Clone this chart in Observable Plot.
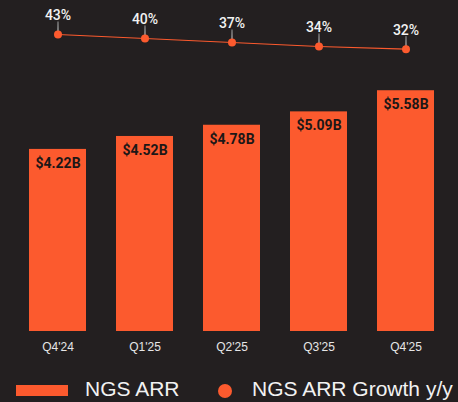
<!DOCTYPE html>
<html>
<head>
<meta charset="utf-8">
<script src="https://cdn.jsdelivr.net/npm/d3@7"></script>
<script src="https://cdn.jsdelivr.net/npm/@observablehq/plot@0.6"></script>
<style>
  html, body { margin: 0; padding: 0; background: #231f20; }
  #wrap { position: relative; width: 458px; height: 402px; overflow: hidden; background: #231f20; }
  #bars, #line { position: absolute; left: 0; top: 0; }
  .legend { position: absolute; left: 0; top: 372px; width: 458px; height: 30px; white-space: nowrap;
    font-family: "Liberation Sans", Arial, sans-serif; font-size: 21px; color: #f2f2f2; }
  .sw-rect { position: absolute; left: 16px; top: 13px; width: 52px; height: 11px; background: #fc5a2e; }
  .lab1 { position: absolute; left: 85px; top: 5px; }
  .sw-dot { position: absolute; left: 218px; top: 12px; width: 14px; height: 14px; border-radius: 50%; background: #fc5a2e; }
  .lab2 { position: absolute; left: 252px; top: 5px; }
</style>
</head>
<body>
<div id="wrap">
  <div id="bars"></div>
  <div id="line"></div>
  <div class="legend">
    <span class="sw-rect"></span><span class="lab1">NGS ARR</span>
    <span class="sw-dot"></span><span class="lab2">NGS ARR Growth y/y</span>
  </div>
</div>
<script>
const quarters = ["Q4'24", "Q1'25", "Q2'25", "Q3'25", "Q4'25"];
const arr = [4.22, 4.52, 4.78, 5.09, 5.58];
const growth = [43, 40, 37, 34, 32];

const orange = "#fc5a2e";
const barData = quarters.map((q, i) => ({q, v: arr[i]}));
const lineData = quarters.map((q, i) => ({q, g: growth[i]}));

const xOpts = {type: "band", domain: quarters, paddingInner: 0.35, paddingOuter: 0.1};

const bars = Plot.plot({
  width: 458, height: 370,
  marginLeft: 20, marginRight: 15, marginTop: 0, marginBottom: 39,
  style: {background: "transparent", color: "#e6e6e6"},
  x: {...xOpts, label: null, axis: null},
  y: {domain: [0, 7.671], axis: null},
  marks: [
    Plot.barY(barData, {x: "q", y: "v", fill: orange}),
    Plot.text(barData, {x: "q", y: "v", text: d => `$${d.v.toFixed(2)}B`, dy: 14,
      fill: "#1b1717", fontSize: 14, fontWeight: "bold", fontFamily: "Roboto"}),
    Plot.axisX({tickSize: 0, tickPadding: 11, fontSize: 12, fontFamily: "Liberation Sans", fill: "#e6e6e6", label: null})
  ]
});
document.getElementById("bars").appendChild(bars);

const line = Plot.plot({
  width: 458, height: 100,
  marginLeft: 20, marginRight: 15, marginTop: 24.67, marginBottom: 35.33,
  style: {background: "transparent", overflow: "visible"},
  x: {...xOpts, axis: null},
  y: {domain: [20, 50], axis: null},
  marks: [
    Plot.line(lineData, {x: "q", y: "g", stroke: orange, strokeWidth: 1.2}),
    Plot.vector(lineData, {x: "q", y: "g", length: 13, anchor: "start", shape: "spike", r: 0.6,
      fill: "#9a9a9a", stroke: "#9a9a9a", strokeWidth: 0.6}),
    Plot.dot(lineData, {x: "q", y: "g", r: 4, fill: orange}),
    Plot.text(lineData, {x: "q", y: "g", text: d => `${d.g}%`, dy: -19,
      fill: "#f2f2f2", fontSize: 14, fontWeight: 500, fontFamily: "Roboto"})
  ]
});
document.getElementById("line").appendChild(line);
</script>
</body>
</html>
